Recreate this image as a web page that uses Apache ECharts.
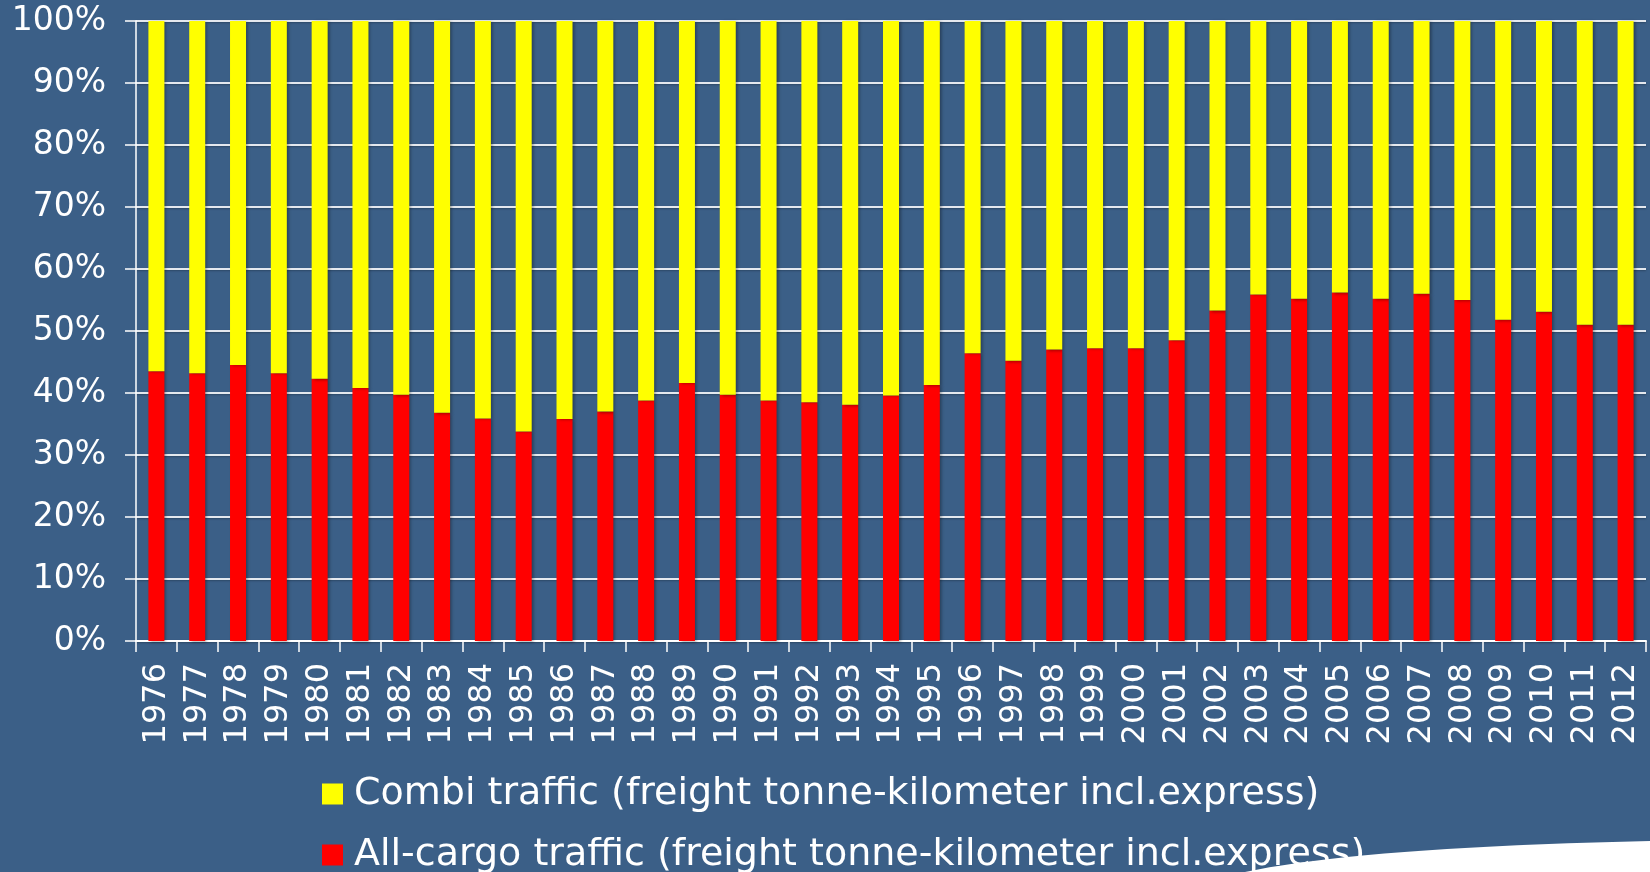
<!DOCTYPE html>
<html>
<head>
<meta charset="utf-8">
<script src="https://cdn.jsdelivr.net/npm/echarts@6/dist/echarts.min.js"></script>
<style>
  html, body { margin: 0; padding: 0; background: #3b5f87; }
  #chart { width: 1650px; height: 872px; }
</style>
</head>
<body>
<div id="chart"></div>
<script>
// years and shares (%)
var years = ['1976','1977','1978','1979','1980','1981','1982','1983','1984','1985',
             '1986','1987','1988','1989','1990','1991','1992','1993','1994','1995',
             '1996','1997','1998','1999','2000','2001','2002','2003','2004','2005',
             '2006','2007','2008','2009','2010','2011','2012'];

var allCargo = [43.5, 43.2, 44.5, 43.2, 42.3, 40.8, 39.7, 36.8, 35.9, 33.8,
                35.8, 37.0, 38.8, 41.6, 39.7, 38.8, 38.5, 38.1, 39.6, 41.3,
                46.4, 45.2, 47.0, 47.2, 47.2, 48.5, 53.3, 55.9, 55.2, 56.2,
                55.2, 56.0, 55.0, 51.8, 53.1, 51.0, 51.0];

// combi is the rest of each 100% bar
var combi = allCargo.map(function (v) { return +(100 - v).toFixed(1); });

var yTicks = [0, 10, 20, 30, 40, 50, 60, 70, 80, 90, 100];

var combiName = 'Combi traffic (freight tonne-kilometer incl.express)';
var cargoName = 'All-cargo traffic (freight tonne-kilometer incl.express)';

var font = '"DejaVu Sans", Verdana, sans-serif';
var barShadow = {
    shadowColor: 'rgba(0, 0, 0, 0.35)',
    shadowBlur: 3,
    shadowOffsetX: 2,
    shadowOffsetY: 1
};

// outline of the white swoosh in the bottom right corner (decoration only)
function swooshPoints() {
    var p0 = [1245, 872], p1 = [1320, 856], p2 = [1460, 845], p3 = [1650, 841];
    var pts = [];
    for (var k = 0; k <= 20; k++) {
        var t = k / 20, u = 1 - t;
        pts.push([
            u*u*u*p0[0] + 3*u*u*t*p1[0] + 3*u*t*t*p2[0] + t*t*t*p3[0],
            u*u*u*p0[1] + 3*u*u*t*p1[1] + 3*u*t*t*p2[1] + t*t*t*p3[1]
        ]);
    }
    pts.push([1650, 872]);
    return pts;
}

function legendItem(name, top) {
    return {
        orient: 'vertical',
        left: 317,
        top: top,
        icon: 'rect',
        itemWidth: 21,
        itemHeight: 21,
        itemGap: 10,
        selectedMode: false,
        textStyle: {
            color: '#ffffff',
            fontFamily: font,
            fontSize: 38,
            padding: [0, 0, 0, 6]
        },
        data: [name]
    };
}

var myChart = echarts.init(document.getElementById('chart'));

var option = {
    backgroundColor: '#3b5f87',
    animation: false,
    grid: {
        left: 136,
        right: 4,
        top: 21,
        bottom: 231,
        containLabel: false
    },
    legend: [
        legendItem(combiName, 770),
        legendItem(cargoName, 831)
    ],
    xAxis: {
        type: 'category',
        data: years,
        boundaryGap: true,
        axisLine: { show: true, lineStyle: { color: '#ffffff', width: 2 } },
        axisTick: { show: true, interval: 0, length: 11, lineStyle: { color: '#ffffff', width: 1.5 } },
        axisLabel: {
            interval: 0,
            rotate: 90,
            margin: 22,
            color: '#ffffff',
            fontFamily: font,
            fontSize: 32
        },
        splitLine: { show: false }
    },
    yAxis: {
        type: 'value',
        min: yTicks[0],
        max: yTicks[yTicks.length - 1],
        interval: 10,
        axisLine: { show: true, lineStyle: { color: '#ffffff', width: 1.5 } },
        axisTick: { show: true, length: 11, lineStyle: { color: '#ffffff', width: 1.5 } },
        axisLabel: {
            margin: 30,
            color: '#ffffff',
            fontFamily: font,
            fontSize: 33,
            formatter: '{value}%'
        },
        splitLine: {
            show: true,
            lineStyle: {
                color: '#e4e8ee',
                width: 2,
                shadowColor: 'rgba(0, 0, 0, 0.25)',
                shadowBlur: 2,
                shadowOffsetY: 1
            }
        }
    },
    series: [
        {
            name: cargoName,
            type: 'bar',
            stack: 'share',
            barWidth: 16,
            data: allCargo,
            itemStyle: Object.assign({ color: '#ff0000' }, barShadow)
        },
        {
            name: combiName,
            type: 'bar',
            stack: 'share',
            barWidth: 16,
            data: combi,
            itemStyle: Object.assign({ color: '#ffff00' }, barShadow)
        }
    ],
    graphic: [
        {
            type: 'polygon',
            z: 100,
            shape: { points: swooshPoints() },
            style: { fill: '#ffffff' }
        }
    ]
};

myChart.setOption(option);
</script>
</body>
</html>
